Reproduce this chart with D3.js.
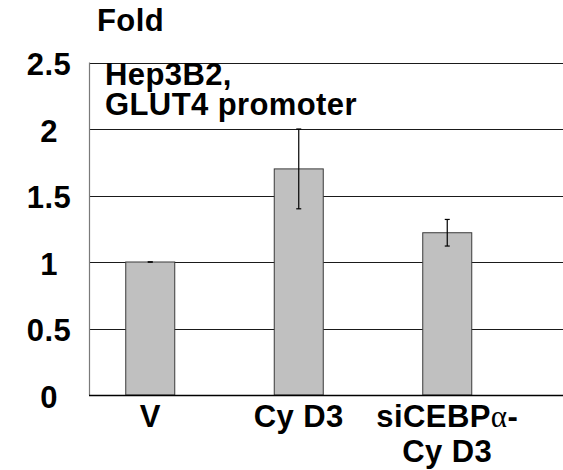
<!DOCTYPE html>
<html>
<head>
<meta charset="utf-8">
<script src="https://cdn.jsdelivr.net/npm/d3@7"></script>
<style>
  html, body { margin: 0; padding: 0; background: #fff; }
  svg { display: block; }
  text { font-family: "Liberation Sans", Arial, sans-serif; font-weight: bold; fill: #000; letter-spacing: 0.4px; }
</style>
</head>
<body>
<svg id="chart" width="563" height="470"></svg>
<script>
// ---- data ----
const categories = ["V", "Cy D3", "siCEBPα-\nCy D3"];
const values = [1.0, 1.70, 1.22];
const errors = [0.0, 0.30, 0.10];
const yTicks = [0, 0.5, 1, 1.5, 2, 2.5];
const yTickLabels = ["0", "0.5", "1", "1.5", "2", "2.5"];
const yTitle = "Fold";
const annotation = ["Hep3B2,", "GLUT4 promoter"];

// ---- layout ----
const W = 563, H = 470;
const axisX = 89, plotRight = 563;
const y0 = 395, yTop = 62.5;
const barWidth = 49;
const fontSize = 31;

const svg = d3.select("#chart");

const y = d3.scaleLinear().domain([0, 2.5]).range([y0, yTop]);
const x = d3.scalePoint().domain(categories).range([76, 521.5]).padding(0.5);

// gridlines
svg.append("g").selectAll("line").data(yTicks.filter(d => d > 0)).join("line")
  .attr("x1", axisX).attr("x2", plotRight)
  .attr("y1", d => Math.round(y(d)) + 0.5).attr("y2", d => Math.round(y(d)) + 0.5)
  .attr("stroke", "#1a1a1a").attr("stroke-width", 1);

// y axis line
svg.append("line")
  .attr("x1", axisX + 0.5).attr("x2", axisX + 0.5)
  .attr("y1", y(2.5)).attr("y2", y0)
  .attr("stroke", "#7a7a7a").attr("stroke-width", 1.2);

// y tick labels
svg.append("g").selectAll("text").data(yTicks).join("text")
  .attr("x", 49)
  .attr("y", d => y(d) + 2)
  .attr("text-anchor", "middle")
  .attr("dominant-baseline", "central")
  .style("font-size", fontSize + "px")
  .text((d, i) => yTickLabels[i]);

// bars
svg.append("g").selectAll("rect").data(categories).join("rect")
  .attr("x", d => x(d) - barWidth / 2)
  .attr("width", barWidth)
  .attr("y", (d, i) => y(values[i]))
  .attr("height", (d, i) => y0 - y(values[i]))
  .attr("fill", "#c0c0c0")
  .attr("stroke", "#3a3a3a").attr("stroke-width", 1);

// baseline
svg.append("line")
  .attr("x1", axisX).attr("x2", plotRight)
  .attr("y1", y0 + 0.5).attr("y2", y0 + 0.5)
  .attr("stroke", "#000").attr("stroke-width", 1.6);

// error bars
const eb = svg.append("g").attr("stroke", "#000").attr("stroke-width", 1.2);
categories.forEach((c, i) => {
  const cx = x(c);
  const hi = y(values[i] + errors[i]), lo = y(values[i] - errors[i]);
  eb.append("line").attr("x1", cx).attr("x2", cx).attr("y1", hi).attr("y2", lo);
  eb.append("line").attr("x1", cx - 2.5).attr("x2", cx + 2.5).attr("y1", hi).attr("y2", hi);
  eb.append("line").attr("x1", cx - 2.5).attr("x2", cx + 2.5).attr("y1", lo).attr("y2", lo);
});

// x labels
const xl = svg.append("g");
categories.forEach((c, i) => {
  const lines = c.split("\n");
  const t = xl.append("text")
    .attr("x", x(c))
    .attr("y", 427)
    .attr("text-anchor", "middle")
    .style("font-size", fontSize + "px");
  lines.forEach((ln, j) => {
    const ts = t.append("tspan").attr("x", x(c)).attr("dy", j === 0 ? 0 : 35);
    const parts = ln.split("α");
    parts.forEach((p, k) => {
      ts.append("tspan").text(p);
      if (k < parts.length - 1) {
        ts.append("tspan").text("α")
          .style("font-family", "'Liberation Serif', 'DejaVu Serif', serif")
          .style("font-weight", "normal");
      }
    });
  });
});

// y title
svg.append("text").attr("x", 97).attr("y", 31)
  .style("font-size", fontSize + "px").text(yTitle);

// annotation
const an = svg.append("text").attr("x", 105).attr("y", 85).style("font-size", fontSize + "px");
annotation.forEach((ln, j) => {
  an.append("tspan").attr("x", 105).attr("dy", j === 0 ? 0 : 30).text(ln);
});
</script>
</body>
</html>
